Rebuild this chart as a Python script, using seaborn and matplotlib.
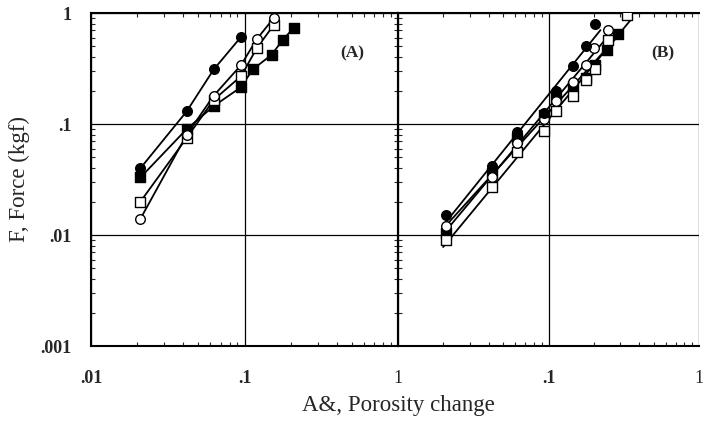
import numpy as np
import pandas as pd
import seaborn as sns
import matplotlib.pyplot as plt
from matplotlib.ticker import FixedLocator, FixedFormatter, LogLocator, NullFormatter

# ---- panel (A) ----
a_fcirc_x = [0.021, 0.042, 0.063, 0.095]
a_fcirc_y = [0.040, 0.130, 0.310, 0.610]
a_ocirc_x = [0.021, 0.042, 0.063, 0.095, 0.120, 0.155]
a_ocirc_y = [0.014, 0.080, 0.180, 0.340, 0.580, 0.900]
a_osq_x = [0.021, 0.042, 0.063, 0.095, 0.120, 0.155]
a_osq_y = [0.020, 0.075, 0.165, 0.270, 0.480, 0.780]
a_fsq_x = [0.021, 0.042, 0.063, 0.095, 0.113, 0.150, 0.177, 0.210]
a_fsq_y = [0.033, 0.090, 0.145, 0.215, 0.310, 0.420, 0.570, 0.740]

# ---- panel (B) ----
b_fcirc_x = [0.021, 0.042, 0.062, 0.093, 0.113, 0.146, 0.177, 0.205]
b_fcirc_y = [0.015, 0.042, 0.085, 0.125, 0.200, 0.330, 0.500, 0.800]
b_ocirc_x = [0.021, 0.042, 0.062, 0.093, 0.113, 0.146, 0.177, 0.200, 0.250]
b_ocirc_y = [0.012, 0.033, 0.068, 0.110, 0.160, 0.240, 0.340, 0.480, 0.700]
b_fsq_x = [0.021, 0.042, 0.062, 0.093, 0.113, 0.146, 0.177, 0.205, 0.245, 0.290]
b_fsq_y = [0.0105, 0.036, 0.075, 0.120, 0.170, 0.220, 0.260, 0.340, 0.460, 0.650]
b_osq_x = [0.021, 0.042, 0.062, 0.093, 0.113, 0.146, 0.177, 0.205, 0.250, 0.330]
b_osq_y = [0.009, 0.027, 0.056, 0.087, 0.130, 0.180, 0.250, 0.310, 0.570, 0.960]

xticks = [0.01, 0.1, 1]
yticks = [0.001, 0.01, 0.1, 1]
ytick_labels = [".001", ".01", ".1", "1"]

sns.set_style("ticks")
plt.rcParams["font.family"] = ["Liberation Serif", "DejaVu Serif"]


def draw(ax, x, y, marker, filled, fit):
    df = pd.DataFrame({"x": x, "y": y})
    if fit:
        k, b = np.polyfit(np.log10(df.x), np.log10(df.y), 1)
        xs = np.array([df.x.min() * 0.95, df.x.max() * 1.08])
        line = pd.DataFrame({"x": xs, "y": 10 ** (k * np.log10(xs) + b)})
    else:
        line = df
    sns.lineplot(data=line, x="x", y="y", ax=ax, color="black", lw=1.3,
                 estimator=None, sort=True, zorder=2)
    sns.scatterplot(data=df, x="x", y="y", ax=ax, marker=marker, s=48,
                    color="black" if filled else "white", edgecolor="black",
                    linewidth=1.0, zorder=3)


fig = plt.figure(figsize=(7.03, 4.30), dpi=100)
axA = fig.add_axes([91 / 703, 0.1953, 307 / 703, 0.7744])
axB = fig.add_axes([398 / 703, 0.1953, 301 / 703, 0.7744])

for ax in (axA, axB):
    ax.set_xscale("log")
    ax.set_yscale("log")

draw(axA, a_fsq_x, a_fsq_y, "s", True, False)
draw(axA, a_osq_x, a_osq_y, "s", False, False)
draw(axA, a_ocirc_x, a_ocirc_y, "o", False, False)
draw(axA, a_fcirc_x, a_fcirc_y, "o", True, False)

draw(axB, b_fsq_x, b_fsq_y, "s", True, True)
draw(axB, b_osq_x, b_osq_y, "s", False, True)
draw(axB, b_ocirc_x, b_ocirc_y, "o", False, True)
draw(axB, b_fcirc_x, b_fcirc_y, "o", True, True)

for ax in (axA, axB):
    ax.set_xlim(0.01, 1)
    ax.set_ylim(0.001, 1)
    ax.set_xlabel("")
    ax.set_ylabel("")
    ax.xaxis.set_major_locator(FixedLocator(xticks))
    ax.yaxis.set_major_locator(FixedLocator(yticks))
    ax.xaxis.set_minor_locator(LogLocator(base=10, subs=np.arange(2, 10)))
    ax.yaxis.set_minor_locator(LogLocator(base=10, subs=np.arange(2, 10)))
    ax.xaxis.set_minor_formatter(NullFormatter())
    ax.yaxis.set_minor_formatter(NullFormatter())
    ax.grid(True, which="major", color="black", lw=0.9)
    ax.tick_params(which="both", direction="in", top=True, right=True)
    ax.tick_params(which="major", length=0, labelsize=13)
    ax.tick_params(axis="x", which="major", pad=17)
    ax.tick_params(axis="y", which="major", pad=14)
    ax.tick_params(which="minor", length=3, width=0.8)
    for s in ax.spines.values():
        s.set_linewidth(1.5)
        s.set_color("black")

# right panel runs off the page edge in the original scan
axB.spines["right"].set_visible(False)
axB.tick_params(which="both", right=False)

axA.xaxis.set_major_formatter(FixedFormatter([".01", ".1", "1"]))
axA.yaxis.set_major_formatter(FixedFormatter(ytick_labels))
axB.xaxis.set_major_formatter(FixedFormatter(["", ".1", "1"]))
axB.yaxis.set_major_formatter(NullFormatter())

for ax in (axA, axB):
    for lab in ax.get_xticklabels():
        lab.set_fontweight("normal" if lab.get_text() == "1" else "bold")
for lab in axA.get_yticklabels():
    lab.set_fontweight("bold")

axA.text(0.85, 0.88, "(A)", transform=axA.transAxes, ha="center", va="center",
         fontsize=12.5, fontweight="bold")
axB.text(0.88, 0.88, "(B)", transform=axB.transAxes, ha="center", va="center",
         fontsize=12.5, fontweight="bold")

fig.text(398 / 703, 0.058, "A&, Porosity change", ha="center", va="center",
         fontsize=16.5)
fig.text(0.028, 0.584, "F, Force (kgf)", ha="center", va="center",
         rotation=90, fontsize=16.5)

fig.savefig("out.png", dpi=100)
